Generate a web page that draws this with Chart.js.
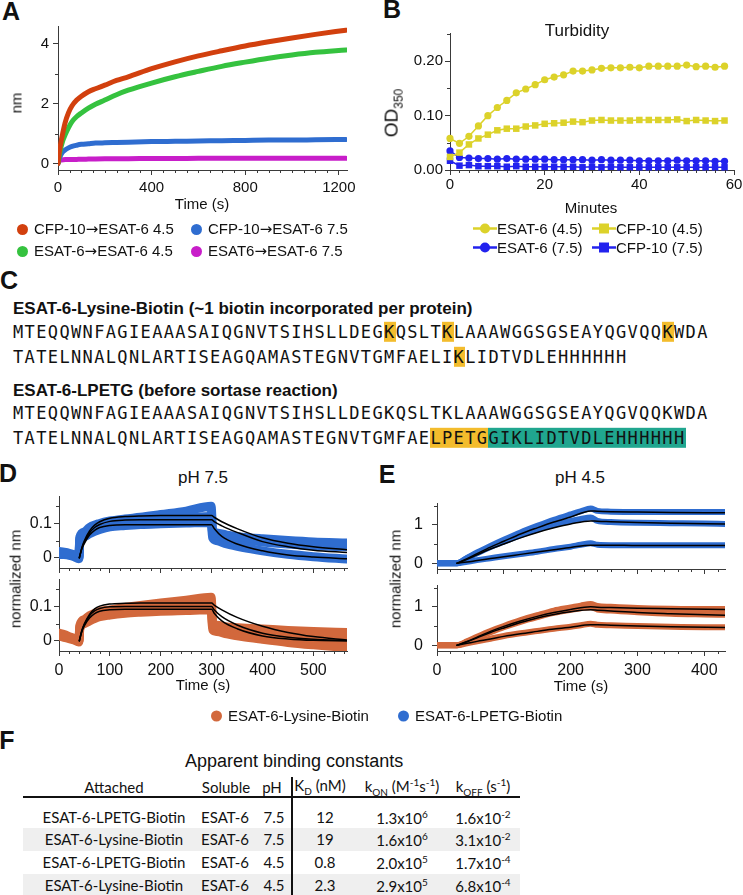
<!DOCTYPE html>
<html lang="en">
<head>
<meta charset="UTF-8">
<title>ESAT-6 binding</title>
<script src="https://cdn.jsdelivr.net/npm/chart.js"></script>
<style>
  body { margin: 0; width: 743px; height: 895px; position: relative; overflow: hidden; background: #fff;
         font-family: "Liberation Sans", Arial, sans-serif; color: #111; }
  canvas { position: absolute; }
  .t { position: absolute; white-space: nowrap; line-height: 1; font-size: 15px; transform: translate(-50%, -50%); }
  .l { position: absolute; white-space: nowrap; line-height: 1; font-size: 15px; transform: translateY(-50%); }
  .v { position: absolute; white-space: nowrap; line-height: 1; font-size: 15px; transform: translate(-50%, -50%) rotate(-90deg); }
  .p { position: absolute; font-weight: bold; font-size: 25px; line-height: 1; transform: translate(-50%, -50%); }
  .hd { position: absolute; left: 13px; font-weight: bold; font-size: 17px; line-height: 1; transform: translateY(-50%); white-space: nowrap; }
  .seq { position: absolute; left: 13px; font-family: "DejaVu Sans Mono", monospace; font-size: 17px; letter-spacing: 1.36px;
         line-height: 1.2; transform: translateY(-50%); white-space: nowrap; }
  .ky { background: #f3bc2d; }
  .tl { background: #20a68f; }
  .ar { font-family: "DejaVu Sans", sans-serif; }
  .dot { display: inline-block; width: 11px; height: 11px; border-radius: 50%; margin-right: 6px; vertical-align: -1px; }
  .tb { font-family: Lato, "Open Sans", sans-serif; font-size: 15px; }
  .tb sub, .tb sup { font-size: 10px; }
</style>
</head>
<body>

<!-- panel letters -->
<div class="p" style="left:11px;top:11px">A</div>
<div class="p" style="left:392px;top:9px">B</div>
<div class="p" style="left:9px;top:280px">C</div>
<div class="p" style="left:8px;top:473px">D</div>
<div class="p" style="left:387px;top:474px">E</div>
<div class="p" style="left:7px;top:740px">F</div>

<!-- A -->
<canvas id="chartA"></canvas>
<div class="v" style="left:16px;top:103px">nm</div>
<div class="t" style="left:202px;top:203px">Time (s)</div>
<div class="l" style="left:17px;top:229px"><span class="dot" style="background:#d2400e"></span>CFP-10<span class="ar">→</span>ESAT-6 4.5</div>
<div class="l" style="left:191px;top:229px"><span class="dot" style="background:#2f6dd0"></span>CFP-10<span class="ar">→</span>ESAT-6 7.5</div>
<div class="l" style="left:17px;top:251px"><span class="dot" style="background:#35c23f"></span>ESAT-6<span class="ar">→</span>ESAT-6 4.5</div>
<div class="l" style="left:191px;top:251px"><span class="dot" style="background:#c81ec9"></span>ESAT6<span class="ar">→</span>ESAT-6 7.5</div>

<!-- B -->
<canvas id="chartB"></canvas>
<div class="t" style="left:577px;top:30px;font-size:17px">Turbidity</div>
<div class="v" style="left:393px;top:113px;font-size:19px">OD<sub style="font-size:12px">350</sub></div>
<div class="t" style="left:591px;top:207px">Minutes</div>
<div class="l" style="left:473px;top:228px"><svg width="24" height="12" style="vertical-align:-1px"><line x1="0" y1="6" x2="24" y2="6" stroke="#dcd22a" stroke-width="2.5"/><circle cx="12" cy="6" r="5" fill="#dcd22a"/></svg>ESAT-6 (4.5)</div>
<div class="l" style="left:592px;top:228px"><svg width="24" height="12" style="vertical-align:-1px"><line x1="0" y1="6" x2="24" y2="6" stroke="#dcd22a" stroke-width="2.5"/><rect x="7" y="1" width="10" height="10" fill="#dcd22a"/></svg>CFP-10 (4.5)</div>
<div class="l" style="left:473px;top:247px"><svg width="24" height="12" style="vertical-align:-1px"><line x1="0" y1="6" x2="24" y2="6" stroke="#2222ee" stroke-width="2.5"/><circle cx="12" cy="6" r="5" fill="#2222ee"/></svg>ESAT-6 (7.5)</div>
<div class="l" style="left:592px;top:247px"><svg width="24" height="12" style="vertical-align:-1px"><line x1="0" y1="6" x2="24" y2="6" stroke="#2222ee" stroke-width="2.5"/><rect x="7" y="1" width="10" height="10" fill="#2222ee"/></svg>CFP-10 (7.5)</div>

<!-- C -->
<div class="hd" style="top:308px">ESAT-6-Lysine-Biotin (~1 biotin incorporated per protein)</div>
<div class="seq" style="top:332px">MTEQQWNFAGIEAAASAIQGNVTSIHSLLDEG<span class="ky">K</span>QSLT<span class="ky">K</span>LAAAWGGSGSEAYQGVQQ<span class="ky">K</span>WDA</div>
<div class="seq" style="top:357px">TATELNNALQNLARTISEAGQAMASTEGNVTGMFAELI<span class="ky">K</span>LIDTVDLEHHHHHH</div>
<div class="hd" style="top:390px">ESAT-6-LPETG (before sortase reaction)</div>
<div class="seq" style="top:413px">MTEQQWNFAGIEAAASAIQGNVTSIHSLLDEGKQSLTKLAAAWGGSGSEAYQGVQQKWDA</div>
<div class="seq" style="top:438px">TATELNNALQNLARTISEAGQAMASTEGNVTGMFAE<span class="ky">LPETG</span><span class="tl">GIKLIDTVDLEHHHHHH</span></div>

<!-- D / E -->
<div class="t" style="left:203px;top:477px;font-size:17px">pH 7.5</div>
<div class="t" style="left:580px;top:477px;font-size:17px">pH 4.5</div>
<canvas id="chartD1"></canvas>
<canvas id="chartD2"></canvas>
<canvas id="chartE1"></canvas>
<canvas id="chartE2"></canvas>
<div class="v" style="left:15px;top:579px">normalized nm</div>
<div class="v" style="left:395px;top:579px">normalized nm</div>
<div class="t" style="left:203px;top:684px">Time (s)</div>
<div class="t" style="left:581px;top:685px">Time (s)</div>
<div class="l" style="left:211px;top:715px"><span class="dot" style="background:#d2683c"></span>ESAT-6-Lysine-Biotin</div>
<div class="l" style="left:398px;top:715px"><span class="dot" style="background:#2f6dd0"></span>ESAT-6-LPETG-Biotin</div>

<!-- F -->
<div class="l" style="left:185px;top:761px;font-size:18px">Apparent binding constants</div>
<div id="table"></div>

<script>
// ---- panel A: association traces (nm vs s)
const aTime  = [0, 5, 10, 20, 30, 45, 60, 80, 100, 130, 160, 200, 250, 300, 400, 500, 600, 700, 800, 900, 1000, 1100, 1230];
const aCfp45 = [0, 0.35, 0.6, 1.0, 1.35, 1.7, 1.93, 2.12, 2.25, 2.4, 2.5, 2.62, 2.78, 2.9, 3.17, 3.4, 3.6, 3.77, 3.93, 4.07, 4.2, 4.32, 4.46];
const aEsat45 = [0, 0.25, 0.45, 0.75, 0.95, 1.2, 1.4, 1.57, 1.69, 1.85, 1.98, 2.12, 2.3, 2.45, 2.69, 2.9, 3.08, 3.25, 3.39, 3.52, 3.63, 3.72, 3.8];
const aCfp75 = [0, 0.15, 0.25, 0.38, 0.45, 0.52, 0.57, 0.61, 0.64, 0.66, 0.68, 0.69, 0.7, 0.71, 0.73, 0.74, 0.75, 0.76, 0.77, 0.78, 0.78, 0.79, 0.8];
const aEsat75 = [0, 0.08, 0.11, 0.12, 0.13, 0.13, 0.13, 0.135, 0.14, 0.145, 0.15, 0.155, 0.16, 0.16, 0.165, 0.165, 0.17, 0.17, 0.17, 0.17, 0.17, 0.17, 0.17];

// ---- panel B: turbidity (OD350 vs minutes)
const bMinutes = [0, 2, 4, 6, 8, 10, 12, 14, 16, 18, 20, 22, 24, 26, 28, 30, 32, 34, 36, 38, 40, 42, 44, 46, 48, 50, 52, 54, 56, 58];
const bEsat45 = [0.058, 0.049, 0.062, 0.081, 0.100, 0.115, 0.128, 0.142, 0.149, 0.157, 0.166, 0.171, 0.175, 0.182, 0.182, 0.184, 0.187, 0.188, 0.188, 0.189, 0.188, 0.191, 0.191, 0.191, 0.191, 0.193, 0.190, 0.191, 0.189, 0.191];
const bCfp45 = [0.024, 0.032, 0.047, 0.058, 0.065, 0.073, 0.076, 0.076, 0.080, 0.082, 0.085, 0.086, 0.087, 0.089, 0.088, 0.091, 0.092, 0.091, 0.091, 0.091, 0.092, 0.092, 0.092, 0.092, 0.093, 0.090, 0.092, 0.091, 0.090, 0.091];
const bEsat75 = [0.035, 0.023, 0.022, 0.021, 0.021, 0.020, 0.021, 0.020, 0.020, 0.020, 0.020, 0.019, 0.019, 0.019, 0.019, 0.018, 0.019, 0.018, 0.018, 0.018, 0.017, 0.017, 0.017, 0.017, 0.018, 0.017, 0.017, 0.017, 0.016, 0.016];
const bCfp75 = [0.017, 0.008, 0.009, 0.007, 0.007, 0.007, 0.006, 0.007, 0.006, 0.006, 0.006, 0.006, 0.006, 0.006, 0.005, 0.006, 0.005, 0.006, 0.005, 0.005, 0.005, 0.005, 0.005, 0.005, 0.005, 0.005, 0.005, 0.005, 0.005, 0.005];

// ---- panel D: pH 7.5 sensorgrams + fits
const dTime = [0, 10, 20, 30, 39, 41, 50, 60, 80, 100, 130, 160, 200, 250, 299, 302, 310, 330, 360, 400, 450, 500, 566];
const dLpetg1 = [0.018, 0.016, 0.013, 0.008, 0.002, 0.06, 0.075, 0.088, 0.1, 0.107, 0.113, 0.118, 0.126, 0.136, 0.15, 0.078, 0.072, 0.066, 0.06, 0.055, 0.05, 0.046, 0.043];
const dLpetg2 = [0.014, 0.013, 0.01, 0.006, 0.0, 0.055, 0.07, 0.08, 0.093, 0.1, 0.105, 0.108, 0.112, 0.116, 0.12, 0.068, 0.064, 0.058, 0.052, 0.046, 0.04, 0.035, 0.032];
const dLpetg3 = [0.01, 0.009, 0.007, 0.003, -0.003, 0.05, 0.062, 0.07, 0.082, 0.09, 0.094, 0.097, 0.099, 0.101, 0.103, 0.058, 0.05, 0.04, 0.03, 0.02, 0.01, 0.003, -0.004];
const dLys1 = [0.022, 0.018, 0.012, 0.006, 0.0, 0.045, 0.062, 0.073, 0.085, 0.09, 0.097, 0.103, 0.11, 0.118, 0.127, 0.05, 0.045, 0.04, 0.037, 0.034, 0.03, 0.027, 0.024];
const dLys2 = [0.018, 0.014, 0.009, 0.004, -0.002, 0.04, 0.056, 0.066, 0.078, 0.083, 0.088, 0.091, 0.095, 0.1, 0.105, 0.04, 0.035, 0.028, 0.022, 0.016, 0.01, 0.006, 0.003];
const dLys3 = [0.014, 0.01, 0.006, 0.002, -0.004, 0.035, 0.05, 0.058, 0.07, 0.075, 0.08, 0.083, 0.086, 0.088, 0.09, 0.032, 0.027, 0.02, 0.012, 0.004, -0.005, -0.012, -0.02];
const dFitTime = [40, 45, 50, 60, 70, 80, 100, 130, 160, 200, 300, 305, 320, 350, 400, 450, 500, 566];
const dLpetgFit1 = [0, 0.03, 0.05, 0.078, 0.095, 0.105, 0.115, 0.12, 0.122, 0.123, 0.123, 0.118, 0.105, 0.085, 0.058, 0.042, 0.032, 0.023];
const dLpetgFit2 = [0, 0.028, 0.046, 0.072, 0.088, 0.097, 0.106, 0.11, 0.111, 0.111, 0.111, 0.105, 0.093, 0.074, 0.047, 0.032, 0.022, 0.015];
const dLpetgFit3 = [0, 0.026, 0.042, 0.066, 0.08, 0.088, 0.094, 0.096, 0.096, 0.096, 0.096, 0.085, 0.062, 0.04, 0.02, 0.008, 0.002, -0.003];
const dLysFit1 = [0, 0.03, 0.05, 0.077, 0.093, 0.101, 0.107, 0.109, 0.11, 0.11, 0.11, 0.104, 0.09, 0.068, 0.042, 0.024, 0.012, 0.002];
const dLysFit2 = [0, 0.03, 0.048, 0.073, 0.087, 0.094, 0.099, 0.1, 0.1, 0.1, 0.1, 0.09, 0.07, 0.046, 0.022, 0.01, 0.004, 0.0];
const dLysFit3 = [0, 0.027, 0.044, 0.066, 0.079, 0.086, 0.09, 0.092, 0.092, 0.092, 0.092, 0.08, 0.058, 0.035, 0.014, 0.005, 0.001, 0.0];

// ---- panel E: pH 4.5 sensorgrams + fits
const eTime = [0, 15, 30, 45, 60, 80, 100, 125, 150, 175, 200, 215, 230, 240, 260, 300, 350, 400, 431];
const eLpetg1 = [0, 0, 0, 0.14, 0.28, 0.45, 0.61, 0.8, 0.97, 1.13, 1.27, 1.35, 1.42, 1.36, 1.34, 1.33, 1.33, 1.33, 1.33];
const eLpetg2 = [0, 0, 0, 0.13, 0.26, 0.42, 0.56, 0.73, 0.88, 1.0, 1.1, 1.15, 1.19, 1.1, 1.07, 1.05, 1.04, 1.03, 1.02];
const eLpetg3 = [0, 0, 0, 0.04, 0.08, 0.13, 0.18, 0.24, 0.3, 0.37, 0.43, 0.48, 0.52, 0.48, 0.47, 0.47, 0.47, 0.47, 0.47];
const eLys1 = [0, 0, 0, 0.1, 0.22, 0.37, 0.5, 0.65, 0.78, 0.9, 0.98, 1.03, 1.07, 1.02, 1.0, 0.97, 0.95, 0.94, 0.94];
const eLys2 = [0, 0, 0, 0.09, 0.2, 0.34, 0.47, 0.61, 0.73, 0.84, 0.92, 0.96, 0.99, 0.93, 0.9, 0.86, 0.82, 0.8, 0.79];
const eLys3 = [0, 0, 0, 0.05, 0.1, 0.17, 0.24, 0.31, 0.37, 0.43, 0.48, 0.52, 0.56, 0.53, 0.52, 0.5, 0.48, 0.47, 0.47];
const eFitTime = [30, 45, 60, 80, 100, 125, 150, 175, 200, 230, 240, 260, 300, 350, 431];
const eLpetgFit1 = [0, 0.12, 0.25, 0.42, 0.57, 0.76, 0.92, 1.07, 1.2, 1.36, 1.35, 1.34, 1.33, 1.32, 1.31];
const eLpetgFit2 = [0, 0.1, 0.22, 0.37, 0.5, 0.66, 0.8, 0.92, 1.02, 1.1, 1.09, 1.08, 1.06, 1.04, 1.02];
const eLpetgFit3 = [0, 0.03, 0.07, 0.12, 0.17, 0.23, 0.29, 0.35, 0.41, 0.47, 0.47, 0.47, 0.46, 0.46, 0.46];
const eLysFit1 = [0, 0.1, 0.21, 0.36, 0.49, 0.63, 0.75, 0.85, 0.93, 1.0, 0.99, 0.98, 0.96, 0.95, 0.93];
const eLysFit2 = [0, 0.09, 0.19, 0.33, 0.45, 0.59, 0.71, 0.8, 0.87, 0.92, 0.91, 0.89, 0.85, 0.82, 0.78];
const eLysFit3 = [0, 0.05, 0.1, 0.16, 0.23, 0.3, 0.36, 0.42, 0.47, 0.53, 0.53, 0.52, 0.5, 0.48, 0.46];

// ---- axis ticks
const aXTicks = [0, 400, 800, 1200], aYTicks = [0, 2, 4];
const bXTicks = [0, 20, 40, 60], bYTicks = [0, 0.1, 0.2];
const dXTicks = [0, 100, 200, 300, 400, 500], dYTicks = [0, 0.1];
const eXTicks = [0, 100, 200, 300, 400], eYTicks = [0, 1];

// ---- panel F table
const tblAttached = ['ESAT-6-LPETG-Biotin', 'ESAT-6-Lysine-Biotin', 'ESAT-6-LPETG-Biotin', 'ESAT-6-Lysine-Biotin'];
const tblSoluble = ['ESAT-6', 'ESAT-6', 'ESAT-6', 'ESAT-6'];
const tblPH = ['7.5', '7.5', '4.5', '4.5'];
const tblKD = ['12', '19', '0.8', '2.3'];
const tblKon = [['1.3', '6'], ['1.6', '6'], ['2.0', '5'], ['2.9', '5']];
const tblKoff = [['1.6', '-2'], ['3.1', '-2'], ['1.7', '-4'], ['6.8', '-4']];

const FONT = 'Liberation Sans';
const AX = '#3a3a3a';
const RED = '#d2400e', GREEN = '#35c23f', BLUE = '#2f6dd0', MAGENTA = '#c81ec9';
const YELLOW = '#dcd22a', DBLUE = '#2222ee', ORANGE = '#d2683c';

// short outward minor ticks, Igor style
function minorValues(min, max, step, majors) {
  const out = [];
  for (let k = Math.ceil(min / step - 1e-9); k * step <= max + 1e-9; k++) {
    const v = k * step;
    if (!majors.some(m => Math.abs(m - v) < step / 100)) out.push(v);
  }
  return out;
}
Chart.register({
  id: 'minorTicks',
  afterDraw(chart, args, o) {
    const { ctx, chartArea: a, scales: { x, y } } = chart;
    ctx.save();
    ctx.strokeStyle = AX;
    ctx.lineWidth = 1;
    ctx.beginPath();
    for (const v of minorValues(x.min, x.max, o.xStep, o.xMajors)) {
      const px = Math.round(x.getPixelForValue(v)) + 0.5;
      ctx.moveTo(px, a.bottom); ctx.lineTo(px, a.bottom + 3);
    }
    for (const v of minorValues(y.min, y.max, o.yStep, o.yMajors)) {
      const py = Math.round(y.getPixelForValue(v)) + 0.5;
      ctx.moveTo(a.left, py); ctx.lineTo(a.left - 3, py);
    }
    ctx.stroke();
    ctx.restore();
  }
});

const pts = (xs, ys) => xs.map((x, i) => ({ x, y: ys[i] }));
const trace = (xs, ys, color, width, order) => ({
  data: pts(xs, ys), borderColor: color, borderWidth: width, pointRadius: 0,
  cubicInterpolationMode: 'monotone', borderCapStyle: 'round', borderJoinStyle: 'round', order
});

function plot(id, box, datasets, ax) {
  const YW = 60, PT = 12, PR = 24, XH = 40;
  const cv = document.getElementById(id);
  cv.width = box.r - box.l + YW + PR;
  cv.height = box.b - box.t + PT + XH;
  cv.style.left = (box.l - YW) + 'px';
  cv.style.top = (box.t - PT) + 'px';
  const axis = (a, isX) => ({
    type: 'linear', min: a.min, max: a.max,
    afterFit: s => { if (isX) s.height = XH; else s.width = YW; },
    afterBuildTicks: s => { s.ticks = a.ticks.map(v => ({ value: v })); },
    border: { color: AX, width: 1 },
    grid: { drawOnChartArea: false, drawTicks: true, tickLength: 5, color: AX },
    ticks: {
      display: a.labels !== false, padding: a.pad, color: '#111', maxRotation: 0, autoSkip: false,
      font: { family: FONT, size: a.size || 15 },
      callback: v => a.fmt ? a.fmt(v) : String(v)
    }
  });
  return new Chart(cv, {
    type: 'line',
    data: { datasets },
    options: {
      responsive: false, animation: false, devicePixelRatio: 1,
      layout: { padding: { top: PT, right: PR, left: 0, bottom: 0 } },
      plugins: {
        legend: { display: false }, tooltip: { enabled: false },
        minorTicks: { xStep: ax.x.minor, xMajors: ax.x.ticks, yStep: ax.y.minor, yMajors: ax.y.ticks }
      },
      scales: { x: axis(ax.x, true), y: axis(ax.y, false) }
    }
  });
}

// A
plot('chartA', { l: 58, t: 25, r: 347, b: 170 }, [
  trace(aTime, aCfp45, RED, 5, 0),
  trace(aTime, aEsat45, GREEN, 5, 1),
  trace(aTime, aCfp75, BLUE, 5, 2),
  trace(aTime, aEsat75, MAGENTA, 5, 3)
], {
  x: { min: 0, max: 1235, ticks: aXTicks, minor: 50, pad: 4 },
  y: { min: -0.22, max: 4.6, ticks: aYTicks, minor: 1, pad: 4 }
});

// B
const marker = (ys, color, style, order) => ({
  data: pts(bMinutes, ys), borderColor: color, backgroundColor: color, borderWidth: 1.5,
  pointStyle: style, pointRadius: style === 'rect' ? 4.6 : 3.6, pointBorderWidth: 0, tension: 0, clip: false, order
});
plot('chartB', { l: 450, t: 33, r: 734, b: 170 }, [
  marker(bEsat45, YELLOW, 'circle', 0),
  marker(bCfp45, YELLOW, 'rect', 1),
  marker(bEsat75, DBLUE, 'circle', 2),
  marker(bCfp75, DBLUE, 'rect', 3)
], {
  x: { min: 0, max: 60, ticks: bXTicks, minor: 2, pad: 1 },
  y: { min: 0, max: 0.252, ticks: bYTicks, minor: 0.05, pad: 2, fmt: v => v.toFixed(2) }
});

// D
const dAxes = (labels) => ({
  x: { min: 0, max: 566, ticks: dXTicks, minor: 20, pad: 5, size: 16, labels },
  y: { min: -0.03, max: 0.18, ticks: dYTicks, minor: 0.05, pad: 2, size: 16 }
});
plot('chartD1', { l: 59, t: 496, r: 347, b: 568 }, [
  trace(dFitTime, dLpetgFit1, '#000', 1.5, 0),
  trace(dFitTime, dLpetgFit2, '#000', 1.5, 0),
  trace(dFitTime, dLpetgFit3, '#000', 1.5, 0),
  trace(dTime, dLpetg1, BLUE, 9, 1),
  trace(dTime, dLpetg2, BLUE, 9, 1),
  trace(dTime, dLpetg3, BLUE, 9, 1)
], dAxes(false));
plot('chartD2', { l: 59, t: 579, r: 347, b: 651 }, [
  trace(dFitTime, dLysFit1, '#000', 1.5, 0),
  trace(dFitTime, dLysFit2, '#000', 1.5, 0),
  trace(dFitTime, dLysFit3, '#000', 1.5, 0),
  trace(dTime, dLys1, ORANGE, 9, 1),
  trace(dTime, dLys2, ORANGE, 9, 1),
  trace(dTime, dLys3, ORANGE, 9, 1)
], dAxes(true));

// E
const eAxes = (labels) => ({
  x: { min: 0, max: 431, ticks: eXTicks, minor: 20, pad: 5, size: 16, labels },
  y: { min: -0.15, max: 1.55, ticks: eYTicks, minor: 0.5, pad: 9, size: 16 }
});
plot('chartE1', { l: 437, t: 497, r: 725, b: 569 }, [
  trace(eFitTime, eLpetgFit1, '#000', 1.5, 0),
  trace(eFitTime, eLpetgFit2, '#000', 1.5, 0),
  trace(eFitTime, eLpetgFit3, '#000', 1.5, 0),
  trace(eTime, eLpetg1, BLUE, 6, 1),
  trace(eTime, eLpetg2, BLUE, 6, 1),
  trace(eTime, eLpetg3, BLUE, 6, 1)
], eAxes(false));
plot('chartE2', { l: 437, t: 579, r: 725, b: 651 }, [
  trace(eFitTime, eLysFit1, '#000', 1.5, 0),
  trace(eFitTime, eLysFit2, '#000', 1.5, 0),
  trace(eFitTime, eLysFit3, '#000', 1.5, 0),
  trace(eTime, eLys1, ORANGE, 6, 1),
  trace(eTime, eLys2, ORANGE, 6, 1),
  trace(eTime, eLys3, ORANGE, 6, 1)
], eAxes(true));

// F: table built from the arrays above
const rowY = [817, 839, 862, 885];
let html = '';
rowY.forEach((y, i) => {
  if (i % 2 === 1) html += `<div style="position:absolute;left:23px;width:497px;top:${y - 11}px;height:23px;background:#efefef"></div>`;
});
html += '<div style="position:absolute;left:23px;width:497px;top:796px;height:2px;background:#111"></div>';
html += '<div style="position:absolute;left:291px;width:1.5px;top:777px;height:118px;background:#111"></div>';
const head = [[114, 'Attached'], [226, 'Soluble'], [272, 'pH'], [320, 'K<sub>D</sub> (nM)'],
              [402, 'k<sub>ON</sub> (M<sup>-1</sup>s<sup>-1</sup>)'], [483, 'k<sub>OFF</sub> (s<sup>-1</sup>)']];
head.forEach(([x, s]) => { html += `<div class="t tb" style="left:${x}px;top:787px">${s}</div>`; });
rowY.forEach((y, i) => {
  html += `<div class="t tb" style="left:114px;top:${y}px">${tblAttached[i]}</div>`;
  html += `<div class="t tb" style="left:225px;top:${y}px">${tblSoluble[i]}</div>`;
  html += `<div class="t tb" style="left:274px;top:${y}px">${tblPH[i]}</div>`;
  html += `<div class="t tb" style="left:325px;top:${y}px">${tblKD[i]}</div>`;
  html += `<div class="t tb" style="left:402px;top:${y}px">${tblKon[i][0]}x10<sup>${tblKon[i][1]}</sup></div>`;
  html += `<div class="t tb" style="left:483px;top:${y}px">${tblKoff[i][0]}x10<sup>${tblKoff[i][1]}</sup></div>`;
});
document.getElementById('table').innerHTML = html;
</script>
</body>
</html>
